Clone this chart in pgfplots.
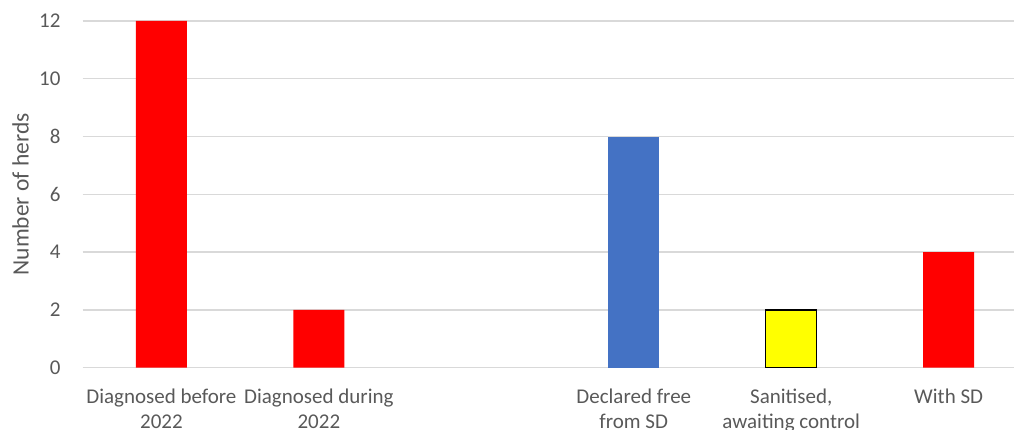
\documentclass[border=0pt]{standalone}
\usepackage{fontspec}
\setmainfont{Carlito}
\usepackage{pgfplots}
\pgfplotsset{compat=1.18}
\definecolor{txt}{HTML}{595959}
\definecolor{gridc}{HTML}{D9D9D9}
\definecolor{sdred}{HTML}{FF0000}
\definecolor{sdblue}{HTML}{4472C4}
\definecolor{sdyellow}{HTML}{FFFF00}
\begin{document}
\begin{tikzpicture}
\begin{axis}[
  name=ax,
  scale only axis,
  width=931.3pt, height=346.7pt,
  xmin=-0.5, xmax=5.415,
  ymin=0, ymax=12,
  ytick={0,2,...,12},
  xtick={0,1,3,4,5},
  xticklabels={Diagnosed before\\2022, Diagnosed during\\2022, Declared free\\from SD, {Sanitised,\\awaiting control}, With SD},
  major tick length=0pt,
  axis line style={draw=none},
  ymajorgrids,
  grid style={draw=gridc, line width=1.3pt},
  ybar, bar width=51pt,
  /pgf/number format/assume math mode=true,
  tick label style={font=\fontsize{21}{25.5}\selectfont, text=txt},
  yticklabel style={inner sep=0pt, anchor=east, xshift=-22pt},
  xticklabel style={inner sep=0pt, anchor=north, yshift=-21pt, align=center},
  ylabel={Number of herds},
  ylabel style={at={(axis description cs:-0.0666,0.5)}, anchor=center, font=\fontsize{23.5}{26}\selectfont, text=txt},
  clip=false,
]
\addplot[bar shift=0pt, fill=sdred, draw=none] coordinates {(0,12) (1,2) (5,4)};
\addplot[bar shift=0pt, fill=sdblue, draw=none] coordinates {(3,8)};
\addplot[bar shift=0pt, fill=sdyellow, draw=black, line width=1.5pt] coordinates {(4,2)};
\end{axis}
\pgfresetboundingbox
\path ([xshift=-82.7pt,yshift=-62.3pt]ax.south west) rectangle ([yshift=21pt]ax.north east);
\end{tikzpicture}
\end{document}
